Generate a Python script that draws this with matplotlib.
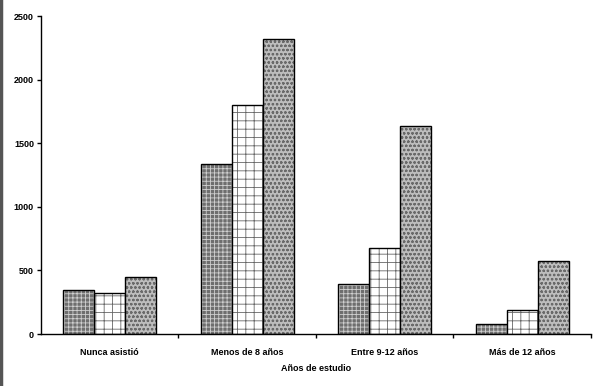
import numpy as np
import matplotlib.pyplot as plt
from matplotlib.lines import Line2D

categorias = ['Nunca asistió', 'Menos de 8 años', 'Entre 9-12 años', 'Más de 12 años']
serie_1 = [345, 1340, 392, 78]
serie_2 = [319, 1804, 680, 188]
serie_3 = [452, 2322, 1639, 573]
yticks = [0, 500, 1000, 1500, 2000, 2500]

plt.rcParams['font.family'] = ['Liberation Sans', 'DejaVu Sans']
plt.rcParams['hatch.linewidth'] = 0.6

fig = plt.figure(figsize=(6.08, 3.86), dpi=100)
ax = fig.add_axes([0.0674, 0.1347, 0.9046, 0.8238])

x = np.arange(len(categorias))
ancho = 0.226
estilos = [
    (serie_1, '#6e6e6e', '++++', '#cfcfcf'),
    (serie_2, 'white', '++', '#666666'),
    (serie_3, '#bdbdbd', 'oooo', '#6a6a6a'),
]
for i, (vals, fc, hatch, hc) in enumerate(estilos):
    pos = x + (i - 1) * ancho
    ax.bar(pos, vals, width=ancho, color=fc, hatch=hatch,
           edgecolor=hc, linewidth=0)
    ax.bar(pos, vals, width=ancho, fill=False, edgecolor='black', linewidth=1.0)

ax.set_xlim(-0.5, len(categorias) - 0.5)
ax.set_ylim(0, 2500)
ax.set_yticks(yticks)
ax.set_yticklabels([str(v) for v in yticks], fontsize=6.5, fontweight='bold')
ax.set_xticks(x)
ax.set_xticklabels(categorias, fontsize=6.5, fontweight='bold')
ax.tick_params(axis='x', which='major', length=0, pad=10)
ax.set_xticks(np.arange(0.5, len(categorias), 1.0), minor=True)
ax.tick_params(axis='x', which='minor', length=3, direction='out', width=1)
ax.tick_params(axis='y', length=3, width=1, pad=2)
ax.spines['top'].set_visible(False)
ax.spines['right'].set_visible(False)
ax.spines['left'].set_linewidth(1)
ax.spines['bottom'].set_linewidth(1)
ax.set_xlabel('Años de estudio', fontsize=6.5, fontweight='bold', labelpad=5)

fig.add_artist(Line2D([0.002, 0.002], [0, 1], color='#555555', linewidth=2.5,
                      transform=fig.transFigure))

fig.savefig('out.png', dpi=100)
